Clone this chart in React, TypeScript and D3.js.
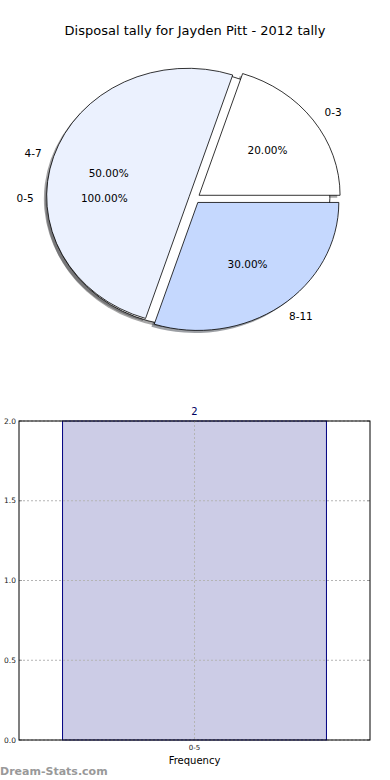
import React from 'react'
import * as d3 from 'd3'

// pie data
const binLabels = ['0-3', '4-7', '8-11']
const binShares = [20, 50, 30]
const binColors = ['#ffffff', '#ebf1fe', '#c5d8fe']
const totalLabels = ['0-5']
const totalShares = [100]

// bar data
const barCategories = ['0-5']
const barValues = [2]
const yTicks = [0, 0.5, 1, 1.5, 2]

const W = 390
const H = 780
const font = 'DejaVu Sans, sans-serif'

// pie geometry (ellipse, matplotlib style)
const pie = { cx: 194.5, cy: 198.3, rx: 141, ry: 128, explode: 0.04 }

// bar chart box
const box = { left: 19, right: 370, top: 421, bottom: 740 }

type Slice = { label: string, value: number, color: string, arc: d3.PieArcDatum<number> }

function layout(labels: string[], values: number[], colors: string[]): Slice[] {
  // counter-clockwise from 3 o'clock, like matplotlib
  const arcs = d3.pie<number>().sort(null).startAngle(Math.PI / 2).endAngle(Math.PI / 2 - 2 * Math.PI)(values)
  return arcs.map((a, i) => ({ label: labels[i], value: values[i], color: colors[i], arc: a }))
}

const unitArc = d3.arc<d3.PieArcDatum<number>>().innerRadius(0).outerRadius(1)

function point(phi: number, r: number) {
  return [Math.sin(phi) * r * pie.rx, -Math.cos(phi) * r * pie.ry]
}

function Pie() {
  const totals = layout(totalLabels, totalShares, ['#ffffff'])
  const bins = layout(binLabels, binShares, binColors)
  const all = [...totals, ...bins]

  const center = (s: Slice) => {
    const mid = (s.arc.startAngle + s.arc.endAngle) / 2
    const [dx, dy] = point(mid, pie.explode)
    return [pie.cx + dx, pie.cy + dy, mid]
  }

  return (
    <g>
      {/* shadows under everything */}
      {all.map((s, i) => {
        const [x, y] = center(s)
        const c = d3.rgb(s.color)
        const shade = d3.rgb(c.r * 0.3, c.g * 0.3, c.b * 0.3)
        return <path key={'sh' + i} d={unitArc(s.arc) || ''}
          transform={`translate(${x - 0.02 * pie.rx},${y + 0.02 * pie.ry}) scale(${pie.rx},${pie.ry})`}
          fill={shade.toString()} fillOpacity={0.5} stroke="none" />
      })}
      {all.map((s, i) => {
        const [x, y] = center(s)
        return <path key={'w' + i} d={unitArc(s.arc) || ''}
          transform={`translate(${x},${y}) scale(${pie.rx},${pie.ry})`}
          fill={s.color} stroke="#000" strokeWidth={0.8} vectorEffect="non-scaling-stroke" />
      })}
      {all.map((s, i) => {
        const [x, y, mid] = center(s)
        const [lx, ly] = point(mid, 1.1)
        const [px, py] = point(mid, 0.6)
        return (
          <g key={'t' + i} fontFamily={font} fontSize={10.5} fill="#000">
            <text x={x + lx} y={y + ly} dy="0.35em" textAnchor={lx > 0 ? 'start' : 'end'}>{s.label}</text>
            <text x={x + px} y={y + py} dy="0.35em" textAnchor="middle">{(s.value).toFixed(2)}%</text>
          </g>
        )
      })}
    </g>
  )
}

function Bars() {
  const x = d3.scaleBand().domain(barCategories).range([box.left, box.right]).paddingInner(0).paddingOuter(0.165)
  const y = d3.scaleLinear().domain([0, 2]).range([box.bottom, box.top])
  return (
    <g>
      {barCategories.map((c, i) => (
        <g key={c}>
          <rect x={x(c)} y={y(barValues[i])} width={x.bandwidth()} height={y(0) - y(barValues[i])}
            fill="#ccccE6" stroke="#000080" strokeWidth={1} />
          <text x={(x(c) || 0) + x.bandwidth() / 2} y={y(barValues[i]) - 6} textAnchor="middle"
            fontFamily={font} fontSize={10} fill="#000060">{barValues[i]}</text>
        </g>
      ))}
      {/* grid */}
      {yTicks.map(t => (
        <g key={t}>
          <line x1={box.left} x2={box.right} y1={y(t)} y2={y(t)} stroke="#b4b4b4" strokeDasharray="2,2" />
          <line x1={box.left} x2={box.left + 3} y1={y(t)} y2={y(t)} stroke="#999" />
          <line x1={box.right - 3} x2={box.right} y1={y(t)} y2={y(t)} stroke="#999" />
          <text x={box.left - 3} y={y(t)} dy="0.35em" textAnchor="end" fontFamily={font} fontSize={7.5} fill="#222">{t.toFixed(1)}</text>
        </g>
      ))}
      {barCategories.map(c => {
        const cxp = (x(c) || 0) + x.bandwidth() / 2
        return (
          <g key={'x' + c}>
            <line x1={cxp} x2={cxp} y1={box.top} y2={box.bottom} stroke="#b4b4b4" strokeDasharray="2,2" />
            <text x={cxp} y={box.bottom + 8} dy="0.35em" textAnchor="middle" fontFamily={font} fontSize={7} fill="#222">{c}</text>
          </g>
        )
      })}
      <rect x={box.left} y={box.top} width={box.right - box.left} height={box.bottom - box.top}
        fill="none" stroke="#000" strokeWidth={1} />
      <text x={(box.left + box.right) / 2} y={box.bottom + 20} dy="0.35em" textAnchor="middle"
        fontFamily={font} fontSize={10} fill="#000">Frequency</text>
    </g>
  )
}

export default function App() {
  return (
    <svg width={W} height={H} style={{ position: 'absolute', left: 0, top: 0, background: '#fff' }}>
      <rect width={W} height={H} fill="#fff" />
      <text x={195} y={30} dy="0.35em" textAnchor="middle" fontFamily={font} fontSize={13} fill="#000">
        Disposal tally for Jayden Pitt - 2012 tally
      </text>
      <Pie />
      <Bars />
      <text x={0} y={775} fontFamily={font} fontSize={11} fontWeight="bold" fill="#999">Dream-Stats.com</text>
    </svg>
  )
}
